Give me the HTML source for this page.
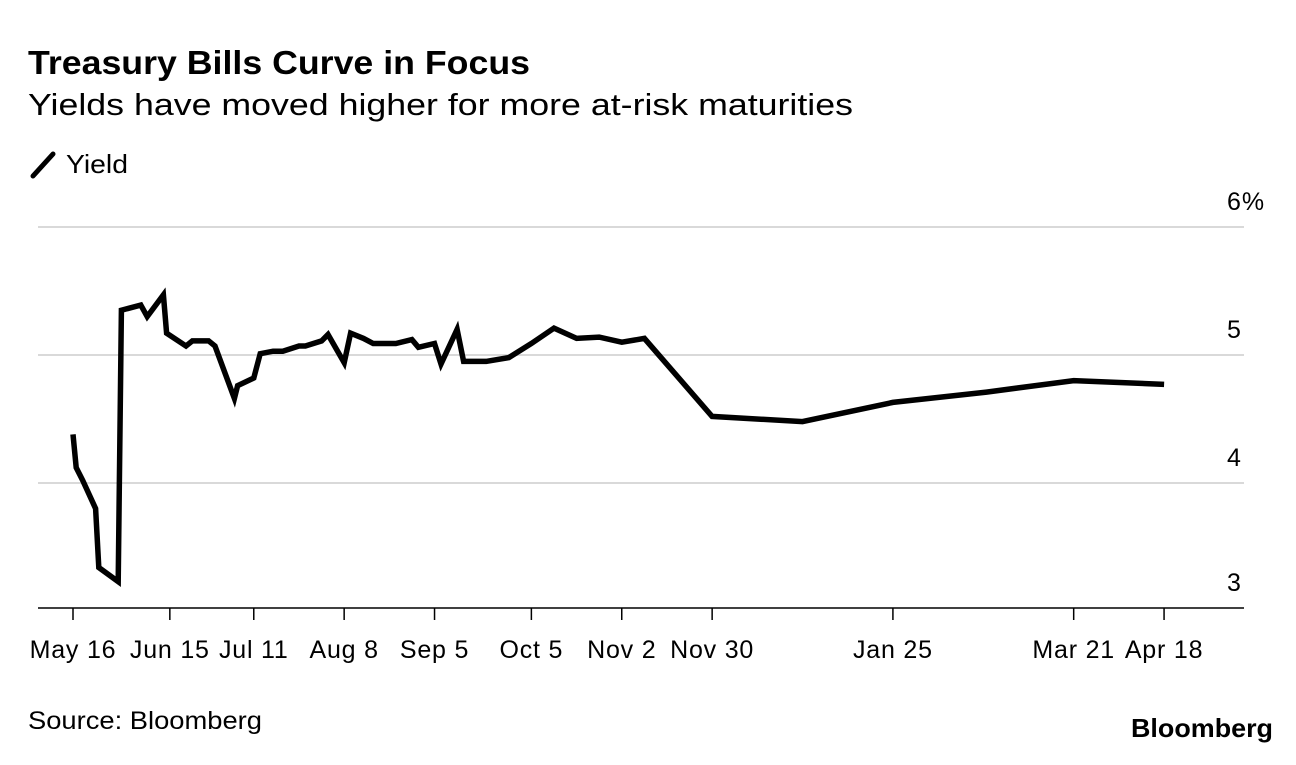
<!DOCTYPE html>
<html><head><meta charset="utf-8">
<style>
body{margin:0;width:1296px;height:760px;background:#fff;font-family:"Liberation Sans",sans-serif;overflow:hidden}
svg text{font-family:"Liberation Sans",sans-serif}
</style></head>
<body>
<svg id="chart" width="1296" height="760">
<text x="28" y="74" font-size="33" font-weight="bold" fill="#000" textLength="502" lengthAdjust="spacingAndGlyphs">Treasury Bills Curve in Focus</text>
<text x="28" y="115" font-size="31" fill="#000" textLength="825" lengthAdjust="spacingAndGlyphs">Yields have moved higher for more at-risk maturities</text>
<g>
<line x1="33" y1="176" x2="53" y2="154" stroke="#000" stroke-width="5" stroke-linecap="round"/>
<text x="66" y="173" font-size="26" fill="#000" textLength="62" lengthAdjust="spacingAndGlyphs">Yield</text>
</g>
<g id="grid"></g>
<g id="xaxis"></g>
<path id="line" fill="none" stroke="#000" stroke-width="5.5" stroke-linejoin="miter"/>
<text x="28" y="729" font-size="25" fill="#000" textLength="234" lengthAdjust="spacingAndGlyphs">Source: Bloomberg</text>
<text x="1131" y="737" font-size="26" font-weight="bold" fill="#000" textLength="142" lengthAdjust="spacingAndGlyphs">Bloomberg</text>
</svg>
<script>
const days=[0,1,3,7,8,14,15,21,23,28,29,35,37,42,44,50,51,56,58,62,65,70,72,77,79,84,86,90,93,100,105,107,112,114,119,121,128,135,142,149,156,163,170,177,198,226,254,283,310,338];
const yields=[4.38,4.12,4.02,3.80,3.34,3.23,5.35,5.39,5.30,5.47,5.17,5.07,5.11,5.11,5.07,4.66,4.76,4.82,5.01,5.03,5.03,5.07,5.07,5.11,5.16,4.94,5.17,5.13,5.09,5.09,5.12,5.06,5.09,4.93,5.20,4.95,4.95,4.98,5.09,5.21,5.13,5.14,5.10,5.13,4.52,4.48,4.63,4.71,4.80,4.77];
const tickDays=[0,30,56,84,112,142,170,198,254,310,338];
const tickLabels=["May 16","Jun 15","Jul 11","Aug 8","Sep 5","Oct 5","Nov 2","Nov 30","Jan 25","Mar 21","Apr 18"];
const yTicks=[6,5,4,3];
const yTickLabels=["6%","5","4","3"];
const NS="http://www.w3.org/2000/svg";
const xs=d=>73+d*3.228;
const ys=v=>355-(v-5)*128;
const grid=document.getElementById('grid');
yTicks.forEach((t,i)=>{
  const y=ys(t);
  if(t>3){
    const l=document.createElementNS(NS,'line');
    l.setAttribute('x1',38);l.setAttribute('x2',1244);l.setAttribute('y1',y);l.setAttribute('y2',y);
    l.setAttribute('stroke','#d9d9d9');l.setAttribute('stroke-width',2);
    
    
    grid.appendChild(l);
  }
  const tx=document.createElementNS(NS,'text');
  tx.setAttribute('x',1227);tx.setAttribute('y',(t>3?y-17:y-20));tx.setAttribute('font-size',25);
  tx.setAttribute('letter-spacing','1');
  tx.textContent=yTickLabels[i];
  
  
  grid.appendChild(tx);
});
const xa=document.getElementById('xaxis');
const ax=document.createElementNS(NS,'line');
ax.setAttribute('x1',38);ax.setAttribute('x2',1244);ax.setAttribute('y1',608);ax.setAttribute('y2',608);
ax.setAttribute('stroke','#000');ax.setAttribute('stroke-width',1.5);


xa.appendChild(ax);
tickDays.forEach((d,i)=>{
  const x=xs(d);
  const t=document.createElementNS(NS,'line');
  t.setAttribute('x1',x);t.setAttribute('x2',x);t.setAttribute('y1',608);t.setAttribute('y2',620);
  t.setAttribute('stroke','#000');t.setAttribute('stroke-width',1.5);
  
  
  xa.appendChild(t);
  const tx=document.createElementNS(NS,'text');
  tx.setAttribute('x',x);tx.setAttribute('y',658);tx.setAttribute('font-size',25);tx.setAttribute('text-anchor','middle');
  tx.setAttribute('letter-spacing','0.8');
  tx.textContent=tickLabels[i];
  
  
  xa.appendChild(tx);
});
document.getElementById('line').setAttribute('d',days.map((d,i)=>(i?'L':'M')+xs(d).toFixed(1)+','+ys(yields[i]).toFixed(1)).join(''));
</script>
</body></html>
